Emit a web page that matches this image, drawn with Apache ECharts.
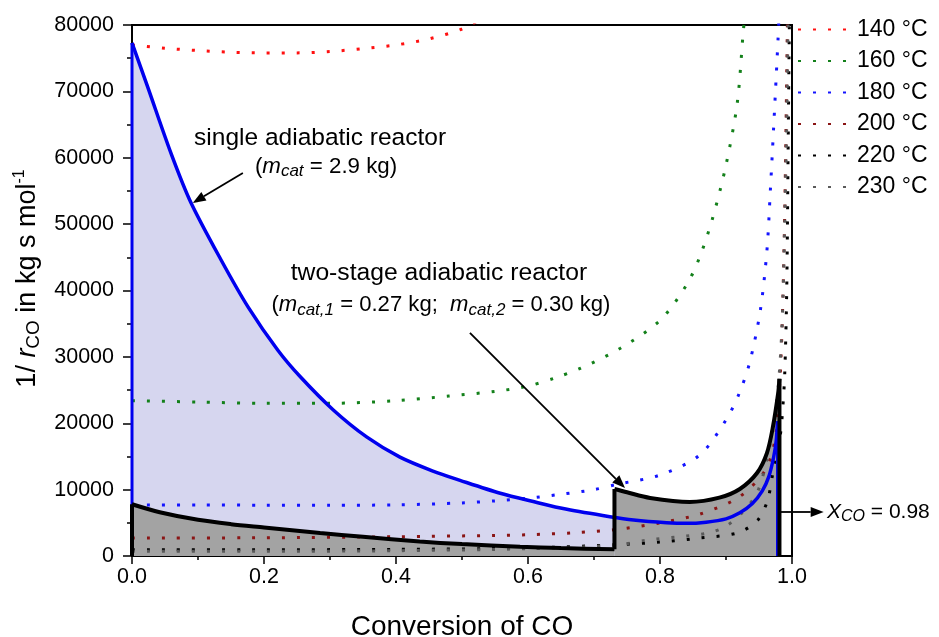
<!DOCTYPE html>
<html><head><meta charset="utf-8">
<script src="https://cdn.jsdelivr.net/npm/echarts@6/dist/echarts.min.js"></script>
<style>html,body{margin:0;padding:0;background:#fff}#c{width:939px;height:637px}</style>
</head><body><div id="c"></div>
<script>
// ---- data ----
const tempNames = ['140 °C','160 °C','180 °C','200 °C','220 °C','230 °C'];
const tempColors = ['#ff1010','#13801a','#1414ff','#8a1515','#000000','#5a5a5a'];
const t140 = [[0,77000],[0.05,76500],[0.1,76150],[0.15,75900],[0.2,75800],[0.25,75800],[0.3,76000],[0.35,76450],[0.4,77000],[0.45,77900],[0.5,79400],[0.53,81000]];
const t160 = [[0,23400],[0.1,23200],[0.2,23000],[0.3,23000],[0.4,23400],[0.48,24100],[0.55,24800],[0.6,25600],[0.64,26800],[0.68,28300],[0.74,31300],[0.8,35500],[0.84,40800],[0.86,45000],[0.88,51000],[0.9,58900],[0.917,68200],[0.926,78800],[0.93,83000]];
const t180 = [[0,7700],[0.1,7700],[0.2,7650],[0.3,7650],[0.4,7700],[0.5,8000],[0.55,8300],[0.6,8700],[0.65,9300],[0.7,10000],[0.735,10800],[0.8,12200],[0.86,15200],[0.9,20500],[0.92,24500],[0.936,29200],[0.952,37000],[0.962,46000],[0.967,54700],[0.972,64200],[0.979,78200],[0.981,83000]];
const t200 = [[0,2700],[0.2,2750],[0.4,2900],[0.55,3100],[0.6,3200],[0.67,3500],[0.735,4000],[0.8,5000],[0.86,6300],[0.92,8900],[0.96,13000],[0.975,18000],[0.982,27000],[0.986,38000],[0.989,52000],[0.991,65000],[0.993,80000],[0.994,85000]];
const t220 = [[0,950],[0.2,950],[0.4,1000],[0.6,1200],[0.735,1700],[0.8,2100],[0.86,2700],[0.918,3500],[0.948,5400],[0.963,8400],[0.971,12500],[0.982,18000],[0.986,22300],[0.989,27500],[0.992,40000],[0.994,60000],[0.996,80000],[0.997,85000]];
const t230 = [[0,700],[0.2,700],[0.4,800],[0.6,1100],[0.735,1650],[0.78,2400],[0.83,2900],[0.875,3500],[0.9,4500],[0.924,6500],[0.947,9500],[0.962,14500],[0.971,19400],[0.979,25400],[0.985,35000],[0.989,50000],[0.992,65000],[0.994,80000],[0.995,85000]];
const singleReactor = [[0,77300],[0.024,70600],[0.059,60700],[0.089,53300],[0.135,44600],[0.176,37500],[0.221,31000],[0.255,27000],[0.305,22000],[0.356,17900],[0.406,14900],[0.456,12800],[0.497,11400],[0.558,9450],[0.608,8200],[0.659,7030],[0.724,5920],[0.76,5420],[0.81,5020],[0.84,4920],[0.87,5100],[0.9,5600],[0.921,6500],[0.94,7900],[0.955,9800],[0.965,12000],[0.972,14800],[0.976,17300],[0.978,20300]];
const singleEdges = [[0,0],[0,77300],'-',[0.978,20300],[0.978,0]];
const stage1 = [[0,7800],[0.042,6600],[0.1,5450],[0.15,4800],[0.2,4300],[0.285,3450],[0.35,2900],[0.436,2200],[0.5,1800],[0.588,1400],[0.65,1200],[0.731,1000]];
const stage2 = [[0.731,10100],[0.75,9600],[0.785,8750],[0.845,8150],[0.89,8800],[0.921,10100],[0.947,12500],[0.962,15500],[0.971,19400],[0.979,24500],[0.981,26700]];
const stageEdges = [[0,0],[0,7800],'-',[0.731,1000],[0.731,10100],'-',[0.981,26700],[0.981,0]];
const xTicks = {min:0, max:1, step:0.2};
const yTicks = {min:0, max:80000, step:10000};
// annotation anchors (data coordinates)
const annSingleArrow = [[0.168,57700],[0.092,53200]];
const annSingleText = [[0.285,63000],[0.294,58700]];
const annTwoText = [[0.465,42600],[0.468,37800]];
const annTwoArrow = [[0.512,33600],[0.747,10240]];
const annXArrow = [[0.983,6630],[1.048,6630]];
const annXText = [1.053,6630];

const FONT = 'Liberation Sans, Arial, sans-serif';
const chart = echarts.init(document.getElementById('c'), null, {renderer:'canvas'});
const dot = [3,12];
const tempData = [t140,t160,t180,t200,t220,t230];
const SM = 0.3;

const series = [];
series.push({type:'line', data:singleReactor, smooth:SM, symbol:'none', z:1, silent:true,
  lineStyle:{width:0}, areaStyle:{color:'#d6d6ef', opacity:1}});
series.push({type:'line', data:stage1, smooth:SM, symbol:'none', z:2, silent:true,
  lineStyle:{width:0}, areaStyle:{color:'#a3a3a3', opacity:1}});
series.push({type:'line', data:stage2, smooth:SM, symbol:'none', z:2, silent:true,
  lineStyle:{width:0}, areaStyle:{color:'#a3a3a3', opacity:1}});
tempData.forEach((d,i)=>{
  series.push({name:tempNames[i], type:'line', data:d, smooth:SM, symbol:'none', z:3, clip:true,
    lineStyle:{color:tempColors[i], width:3, type:dot}, itemStyle:{color:tempColors[i]}});
});
series.push({type:'line', data:singleReactor, smooth:SM, symbol:'none', z:4, lineStyle:{color:'#0000ee', width:3.5}});
series.push({type:'line', data:singleEdges, symbol:'none', z:4, connectNulls:false, lineStyle:{color:'#0000ee', width:3}});
series.push({type:'line', data:stage1, smooth:SM, symbol:'none', z:5, lineStyle:{color:'#000', width:4}});
series.push({type:'line', data:stage2, smooth:SM, symbol:'none', z:5, lineStyle:{color:'#000', width:4}});
series.push({type:'line', data:stageEdges, symbol:'none', z:5, connectNulls:false, lineStyle:{color:'#000', width:4}});

chart.setOption({
  animation:false,
  backgroundColor:'#fff',
  textStyle:{fontFamily:FONT},
  grid:{left:132, right:147, top:25, bottom:81, show:true, borderColor:'#000', borderWidth:2, backgroundColor:'transparent', outerBoundsMode:'none', containLabel:false},
  legend:{data:tempNames, orient:'vertical', left:797, top:18, padding:0, itemWidth:54, itemHeight:14, itemGap:8.5,
    itemStyle:{color:'rgba(0,0,0,0)', borderWidth:0, opacity:0},
    textStyle:{fontSize:23, color:'#000', fontFamily:FONT}},
  xAxis:{type:'value', min:xTicks.min, max:xTicks.max, interval:xTicks.step,
    name:'Conversion of CO', nameLocation:'middle', nameGap:57,
    nameTextStyle:{fontSize:28, color:'#000', fontFamily:FONT},
    axisLine:{lineStyle:{color:'#000', width:2}},
    axisTick:{length:8, lineStyle:{color:'#000', width:1.5}},
    minorTick:{show:true, splitNumber:2, length:4, lineStyle:{color:'#000', width:1.5}},
    splitLine:{show:false},
    axisLabel:{fontSize:21.5, color:'#000', margin:10, fontFamily:FONT, formatter:v=>v.toFixed(1)}},
  yAxis:{type:'value', min:yTicks.min, max:yTicks.max, interval:yTicks.step,
    name:'{n|1/ }{i|r}{sub|CO}{n| in kg s mol}{sup|-1}', nameLocation:'middle', nameGap:72, nameRotate:90,
    nameTextStyle:{color:'#000', fontFamily:FONT, padding:[0,0,0,24], rich:{
      n:{fontSize:27, lineHeight:32, fontFamily:FONT, color:'#000'},
      i:{fontSize:27, lineHeight:32, fontStyle:'italic', fontFamily:FONT, color:'#000'},
      sub:{fontSize:19, lineHeight:17, verticalAlign:'bottom', fontFamily:FONT, color:'#000'},
      sup:{fontSize:16, lineHeight:17, verticalAlign:'top', fontFamily:FONT, color:'#000'}}},
    axisLine:{lineStyle:{color:'#000', width:2}},
    axisTick:{length:9, lineStyle:{color:'#000', width:1.5}},
    minorTick:{show:true, splitNumber:2, length:5, lineStyle:{color:'#000', width:1.5}},
    splitLine:{show:false},
    axisLabel:{fontSize:21.5, color:'#000', margin:18, fontFamily:FONT, formatter:v=>String(v)}},
  series:series
});

function px(p){ return chart.convertToPixel({gridIndex:0}, p); }
function arrow(a,b){
  const p1=px(a), p2=px(b);
  const dx=p2[0]-p1[0], dy=p2[1]-p1[1], L=Math.hypot(dx,dy), ux=dx/L, uy=dy/L;
  const hl=13, hw=5;
  const bx=p2[0]-ux*hl, by=p2[1]-uy*hl;
  return [
    {type:'line', shape:{x1:p1[0],y1:p1[1],x2:bx,y2:by}, style:{stroke:'#000', lineWidth:1.8}, z:100},
    {type:'polygon', shape:{points:[[p2[0],p2[1]],[bx-uy*hw,by+ux*hw],[bx+uy*hw,by-ux*hw]]}, style:{fill:'#000'}, z:100}
  ];
}
function mkRich(fs){
  return {
    n:{fontSize:fs, lineHeight:fs+5, fontFamily:FONT, fill:'#000'},
    i:{fontSize:fs, lineHeight:fs+5, fontStyle:'italic', fontFamily:FONT, fill:'#000'},
    is:{fontSize:Math.round(fs*0.75), lineHeight:Math.round(fs*0.65), fontStyle:'italic', verticalAlign:'bottom', fontFamily:FONT, fill:'#000'}
  };
}
function txt(p, text, align, size){
  const q = px(p); const fs = size||22;
  return {type:'text', x:q[0], y:q[1], z:100, style:{text:text, align:align||'center', verticalAlign:'middle',
    font:fs+'px '+FONT, fill:'#000', rich:mkRich(fs)}};
}
const g = [];
g.push(...arrow(annSingleArrow[0], annSingleArrow[1]));
g.push(txt(annSingleText[0], 'single adiabatic reactor', 'center', 24.5));
g.push(txt(annSingleText[1], '({i|m}{is|cat}{n| = 2.9 kg)}', 'center', 22.3));
g.push(txt(annTwoText[0], 'two-stage adiabatic reactor', 'center', 24.7));
g.push(txt(annTwoText[1], '({i|m}{is|cat,1}{n| = 0.27 kg;  }{i|m}{is|cat,2}{n| = 0.30 kg)}', 'center', 22.1));
g.push(...arrow(annTwoArrow[0], annTwoArrow[1]));
g.push(...arrow(annXArrow[0], annXArrow[1]));
g.push(txt(annXText, '{i|X}{is|CO}{n| = 0.98}', 'left', 21));
chart.setOption({graphic:{elements:g}});
</script>
</body></html>
